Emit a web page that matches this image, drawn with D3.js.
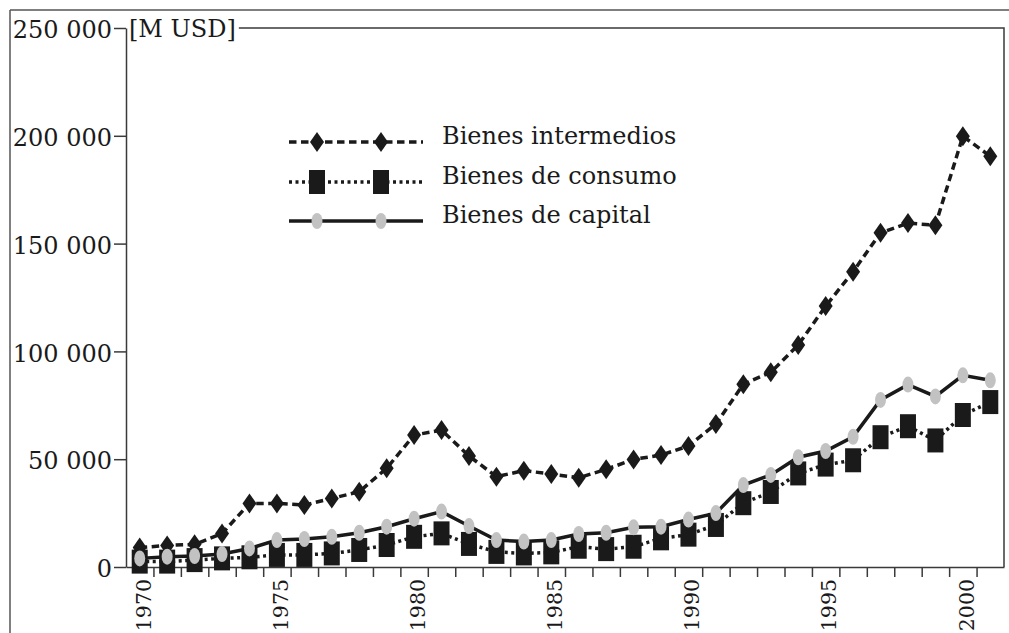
<!DOCTYPE html>
<html>
<head>
<meta charset="utf-8">
<script src="https://cdn.jsdelivr.net/npm/d3@7"></script>
<style>
  html, body { margin: 0; padding: 0; background: #fff; }
  svg { display: block; }
  text { font-family: "DejaVu Serif", serif; fill: #1a1a1a; }
</style>
</head>
<body>
<svg id="chart" width="1009" height="633"></svg>
<script>
const years = [1970,1971,1972,1973,1974,1975,1976,1977,1978,1979,1980,1981,1982,1983,1984,1985,
               1986,1987,1988,1989,1990,1991,1992,1993,1994,1995,1996,1997,1998,1999,2000,2001];
const intermedios = [9000,10000,10500,15500,29500,29500,28700,31800,34900,45800,61200,63500,51500,41900,44700,43100,
                     41400,45300,49900,51900,56100,66300,84800,90300,103000,121000,137000,155000,159500,158500,199800,190500];
const consumo = [2500,2500,3200,4000,4500,5600,5600,6300,7900,10200,14000,15600,10700,7000,6300,6800,
                 9400,8300,9400,13300,15000,19500,29600,34800,43400,47500,49500,60200,65300,58700,70500,76500];
const capital = [4000,4800,5100,6000,8600,12500,13000,14000,15900,18700,22400,25700,19000,12500,11800,12500,
                 15300,15900,18400,18700,22000,25000,38000,42700,50900,53800,60400,77500,84600,79100,88900,86600];
const yTicks = [0,50000,100000,150000,200000,250000];
const xLabelYears = [1970,1975,1980,1985,1990,1995,2000];
const seriesNames = ["Bienes intermedios","Bienes de consumo","Bienes de capital"];
const unitLabel = "[M USD]";

const svg = d3.select("#chart");
const ink = "#1a1a1a";
const frameCol = "#3a3a3a";
const fs = 24;

const x = d3.scaleLinear().domain([years[0]-0.5, years[years.length-1]+0.5]).range([126, 1004]);
const y = d3.scaleLinear().domain([0, 250000]).range([567, 28]);

// outer page lines
svg.append("line").attr("x1",10).attr("x2",1009).attr("y1",10).attr("y2",10)
   .attr("stroke","#555").attr("stroke-width",1.5);
svg.append("line").attr("x1",10).attr("x2",10).attr("y1",10).attr("y2",633)
   .attr("stroke","#555").attr("stroke-width",1.5);

// unit label + top/right frame
const unit = svg.append("text").attr("x",129).attr("y",y(250000)+9)
   .attr("font-size",fs).text(unitLabel);
const uw = unit.node().getComputedTextLength();
svg.append("path")
   .attr("d", `M${129+uw+3},${y(250000)}H${x.range()[1]}V${y(0)}`)
   .attr("fill","none").attr("stroke",frameCol).attr("stroke-width",1.5);

// y axis
const yAxis = d3.axisLeft(y).tickValues(yTicks).tickSize(12).tickSizeOuter(0).tickPadding(2)
   .tickFormat(d => d3.format(",")(d).replace(/,/g," "));
const gy = svg.append("g").attr("transform",`translate(${x.range()[0]},0)`).call(yAxis);
gy.selectAll("path, line").attr("stroke",frameCol).attr("stroke-width",1.5);
gy.selectAll("text").attr("font-size",fs).attr("font-family","DejaVu Serif").attr("fill",ink)
   .attr("dy","0.4em");

// x axis: ticks at year boundaries
const bounds = years.slice(0,-1).map(v => v+0.5);
const xAxis = d3.axisBottom(x).tickValues(bounds).tickSize(10).tickSizeOuter(0).tickFormat("");
const gx = svg.append("g").attr("transform",`translate(0,${y(0)})`).call(xAxis);
gx.selectAll("path, line").attr("stroke",frameCol).attr("stroke-width",1.5);

// x labels
const xLab = d3.axisBottom(x).tickValues(xLabelYears).tickSize(0).tickFormat(d3.format("d"));
const gxl = svg.append("g").attr("transform",`translate(0,${y(0)})`).call(xLab);
gxl.select("path").remove();
gxl.selectAll("text")
   .attr("font-size",20.5).attr("font-family","DejaVu Serif").attr("fill",ink)
   .attr("transform","rotate(-90)")
   .attr("text-anchor","end")
   .attr("x",-12).attr("y",0).attr("dy","0.38em");
gxl.selectAll(".tick").attr("transform", d => `translate(${x(d)+3},0)`);

// series
const line = d3.line().x((d,i)=>x(years[i])).y(d=>y(d));

function diamond(g, cx, cy){
  g.append("path").attr("d",`M${cx},${cy-10}L${cx+7},${cy}L${cx},${cy+10}L${cx-7},${cy}Z`).attr("fill",ink);
}
function square(g, cx, cy){
  g.append("rect").attr("x",cx-8).attr("y",cy-12).attr("width",16).attr("height",24).attr("fill",ink);
}
function circ(g, cx, cy){
  g.append("ellipse").attr("cx",cx).attr("cy",cy).attr("rx",5.5).attr("ry",8).attr("fill","#c2c2c2");
}

const series = [
  {name: seriesNames[0], data: intermedios, dash: "7.5,4.5", marker: diamond},
  {name: seriesNames[1], data: consumo, dash: "3,3.5", marker: square},
  {name: seriesNames[2], data: capital, dash: null, marker: circ}
];

series.forEach(s => {
  const g = svg.append("g");
  g.append("path").datum(s.data).attr("d",line)
   .attr("fill","none").attr("stroke",ink).attr("stroke-width",3.5)
   .attr("stroke-dasharray", s.dash);
  s.data.forEach((v,i) => s.marker(g, x(years[i]), y(v)));
});

// legend
const legY = [142, 182, 221];
series.forEach((s,i) => {
  const g = svg.append("g");
  g.append("line").attr("x1",289).attr("x2",423).attr("y1",legY[i]).attr("y2",legY[i])
   .attr("stroke",ink).attr("stroke-width",3.5).attr("stroke-dasharray", s.dash);
  s.marker(g, 317, legY[i]);
  s.marker(g, 381, legY[i]);
  g.append("text").attr("x",442).attr("y",legY[i]+2).attr("font-size",fs).text(s.name);
});
</script>
</body>
</html>
